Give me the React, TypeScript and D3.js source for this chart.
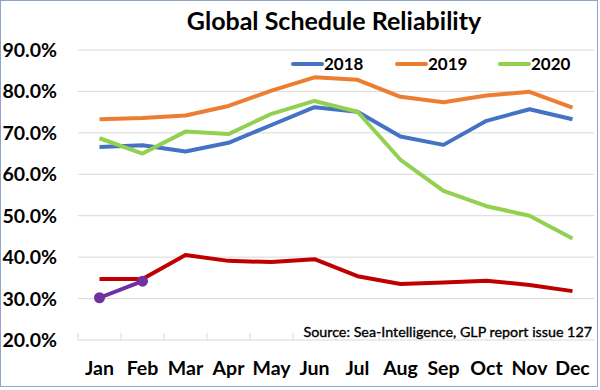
import React, { useEffect, useRef } from 'react';
import * as d3 from 'd3';

const months = ['Jan', 'Feb', 'Mar', 'Apr', 'May', 'Jun', 'Jul', 'Aug', 'Sep', 'Oct', 'Nov', 'Dec'];
const yTicks = [0.2, 0.3, 0.4, 0.5, 0.6, 0.7, 0.8, 0.9];

const s2018 = [0.666, 0.670, 0.655, 0.676, 0.719, 0.762, 0.751, 0.691, 0.671, 0.729, 0.757, 0.733];
const s2019 = [0.733, 0.736, 0.742, 0.765, 0.802, 0.834, 0.828, 0.787, 0.774, 0.790, 0.799, 0.761];
const s2020 = [0.687, 0.650, 0.703, 0.697, 0.746, 0.777, 0.751, 0.635, 0.560, 0.523, 0.500, 0.445];
const s2021 = [0.347, 0.347, 0.405, 0.391, 0.388, 0.395, 0.354, 0.335, 0.339, 0.343, 0.333, 0.318];
const sCurrent = [0.302, 0.342];

const legendItems = [
  { label: '2018', color: '#4472C4', x: 293 },
  { label: '2019', color: '#ED7D31', x: 397 },
  { label: '2020', color: '#92D050', x: 500 },
];

const FONT = 'Lato, "Open Sans", sans-serif';

export default function App() {
  const svgRef = useRef<SVGSVGElement>(null);

  useEffect(() => {
    if (!svgRef.current) return;
    const width = 600;
    const margin = { top: 50, right: 4, bottom: 50, left: 78 };

    const svg = d3.select(svgRef.current);
    svg.selectAll('*').remove();

    svg.append('rect')
      .attr('x', 0.5).attr('y', 0.5)
      .attr('width', 597).attr('height', 386)
      .attr('fill', '#fff')
      .attr('stroke', '#8EA4C8')
      .attr('stroke-width', 1);

    const x = d3.scaleBand<string>()
      .domain(months)
      .range([margin.left, width - margin.right - 2]);
    const y = d3.scaleLinear().domain([0.2, 0.9]).range([340, 50]);

    const cx = (i: number) => (x(months[i]) as number) + x.bandwidth() / 2;

    // gridlines
    svg.append('g').selectAll('line')
      .data(yTicks.slice(1))
      .enter().append('line')
      .attr('x1', margin.left).attr('x2', width - margin.right - 2)
      .attr('y1', (d) => y(d)).attr('y2', (d) => y(d))
      .attr('stroke', '#D9D9D9').attr('stroke-width', 1);

    // x axis
    const axisG = svg.append('g');
    axisG.append('line')
      .attr('x1', margin.left).attr('x2', width - margin.right - 2)
      .attr('y1', y(0.2)).attr('y2', y(0.2))
      .attr('stroke', '#D9D9D9').attr('stroke-width', 1);
    axisG.selectAll('.tick')
      .data(months)
      .enter().append('line')
      .attr('x1', (d) => x(d) as number).attr('x2', (d) => x(d) as number)
      .attr('y1', y(0.2) - 7).attr('y2', y(0.2))
      .attr('stroke', '#D9D9D9').attr('stroke-width', 1);

    axisG.selectAll('text')
      .data(months)
      .enter().append('text')
      .attr('x', (d, i) => cx(i))
      .attr('y', 375)
      .attr('text-anchor', 'middle')
      .style('font-family', FONT)
      .style('font-weight', 700)
      .style('font-size', '19.5px')
      .attr('fill', '#000')
      .text((d) => d);

    // y labels
    svg.append('g').selectAll('text')
      .data(yTicks)
      .enter().append('text')
      .attr('x', 57)
      .attr('y', (d) => y(d) + 7)
      .attr('text-anchor', 'end')
      .style('font-family', FONT)
      .style('font-weight', 700)
      .style('font-size', '19.5px')
      .attr('fill', '#000')
      .text((d) => d3.format('.1%')(d));

    const line = d3.line<number>()
      .x((d, i) => cx(i))
      .y((d) => y(d));

    const series = [
      { data: s2018, color: '#4472C4' },
      { data: s2019, color: '#ED7D31' },
      { data: s2020, color: '#92D050' },
      { data: s2021, color: '#C00000' },
      { data: sCurrent, color: '#7030A0' },
    ];

    svg.append('g').selectAll('path')
      .data(series)
      .enter().append('path')
      .attr('fill', 'none')
      .attr('stroke', (d) => d.color)
      .attr('stroke-width', 4)
      .attr('stroke-linejoin', 'round')
      .attr('d', (d) => line(d.data));

    svg.append('g').selectAll('circle')
      .data(sCurrent)
      .enter().append('circle')
      .attr('cx', (d, i) => cx(i))
      .attr('cy', (d) => y(d))
      .attr('r', 5.5)
      .attr('fill', '#7030A0');

    // title
    svg.append('text')
      .attr('x', 334).attr('y', 30)
      .attr('text-anchor', 'middle')
      .style('font-family', FONT)
      .style('font-weight', 700)
      .style('font-size', '25px')
      .attr('fill', '#000')
      .text('Global Schedule Reliability');

    // legend
    const lg = svg.append('g').selectAll('g')
      .data(legendItems)
      .enter().append('g');
    lg.append('line')
      .attr('x1', (d) => d.x).attr('x2', (d) => d.x + 29)
      .attr('y1', 64).attr('y2', 64)
      .attr('stroke', (d) => d.color)
      .attr('stroke-width', 4)
      .attr('stroke-linecap', 'round');
    lg.append('text')
      .attr('x', (d) => d.x + 31).attr('y', 70)
      .style('font-family', FONT)
      .style('font-weight', 700)
      .style('font-size', '17px')
      .attr('fill', '#000')
      .text((d) => d.label);

    // source
    svg.append('text')
      .attr('x', 592).attr('y', 337)
      .attr('text-anchor', 'end')
      .style('font-family', FONT)
      .style('font-weight', 400)
      .style('font-size', '14.3px')
      .attr('fill', '#000')
      .attr('stroke', '#000')
      .attr('stroke-width', 0.35)
      .text('Source: Sea-Intelligence, GLP report issue 127');
  }, []);

  return (
    <svg ref={svgRef} width={600} height={390} viewBox="0 0 600 390"
      style={{ position: 'absolute', left: 0, top: 0 }} />
  );
}
